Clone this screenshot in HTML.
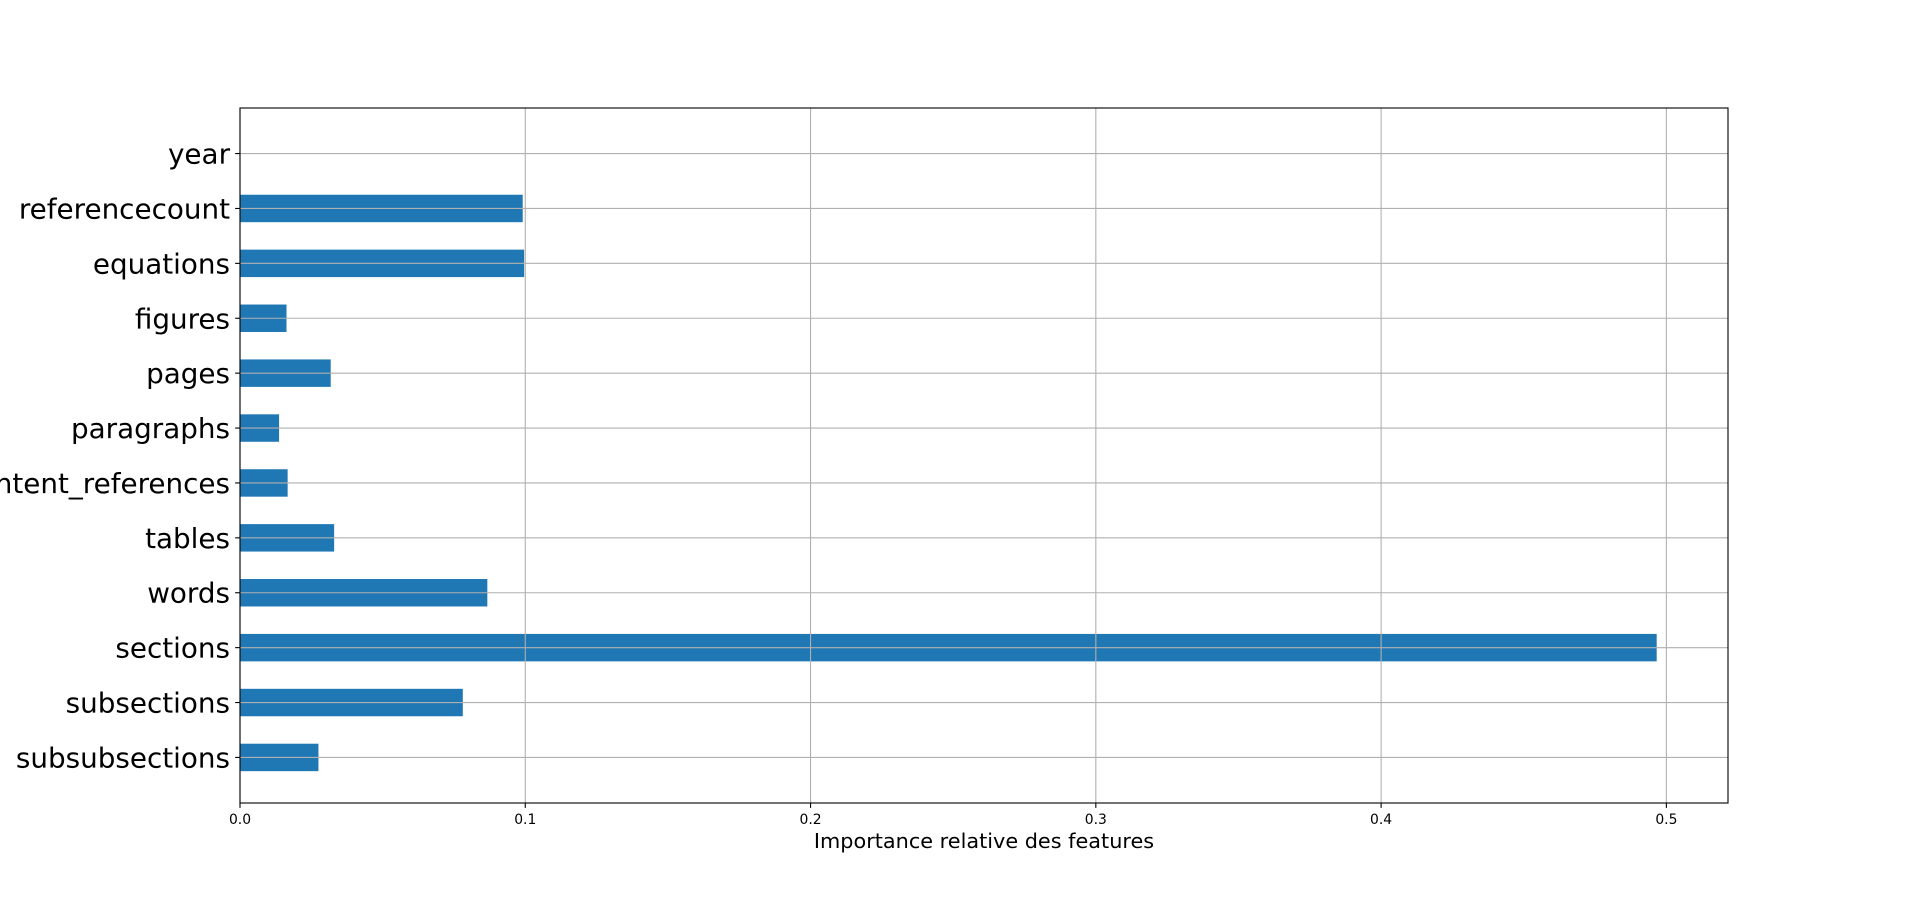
<!DOCTYPE html>
<html><head><meta charset="utf-8"><style>
html,body{margin:0;padding:0;background:#fff;}
svg{display:block;font-family:"DejaVu Sans","Liberation Sans",sans-serif;}
</style></head><body>
<svg id="chart" width="1920" height="902" viewBox="0 0 1920 902" xmlns="http://www.w3.org/2000/svg"></svg>
<script>
const categories = ["year","referencecount","equations","figures","pages","paragraphs","content_references","tables","words","sections","subsections","subsubsections"];
const values = [0.0, 0.0991, 0.0996, 0.0163, 0.0318, 0.0137, 0.0167, 0.033, 0.0867, 0.4966, 0.0781, 0.0275];
const xTicks = [0.0, 0.1, 0.2, 0.3, 0.4, 0.5];
const xTickLabels = ["0.0","0.1","0.2","0.3","0.4","0.5"];

const L=240, R=1728, T=108, B=803;
const xMax=0.5216, yLo=-0.83, yHi=11.83;
const NS="http://www.w3.org/2000/svg";
const svg=document.getElementById('chart');
function xs(v){return L+(v/xMax)*(R-L);}
function ys(i){const u=(categories.length-1-i);return B-(u-yLo)/(yHi-yLo)*(B-T);}
function mk(tag,attrs,parent){const e=document.createElementNS(NS,tag);for(const k in attrs)e.setAttribute(k,attrs[k]);(parent||svg).appendChild(e);return e;}

const barH=(B-T)/(yHi-yLo)*0.5;
categories.forEach((c,i)=>{
  const r=mk('rect',{x:xs(0),y:ys(i)-barH/2,width:xs(values[i])-xs(0),height:barH,fill:'#1f77b4'});
  
  
});
xTicks.forEach((t,k)=>{
  const g=mk('line',{x1:xs(t),x2:xs(t),y1:T,y2:B,stroke:'#b0b0b0','stroke-width':1.1});
  
  
  const tk=mk('line',{x1:xs(t),x2:xs(t),y1:B,y2:B+4.9,stroke:'#000','stroke-width':1.1});
  
  
  const tx=mk('text',{x:xs(t),y:B+21,'font-size':13.9,'text-anchor':'middle',fill:'#000'});
  tx.textContent=xTickLabels[k];
  
  
});
categories.forEach((c,i)=>{
  const g=mk('line',{x1:L,x2:R,y1:ys(i),y2:ys(i),stroke:'#b0b0b0','stroke-width':1.1});
  
  
  const tk=mk('line',{x1:L-4.9,x2:L,y1:ys(i),y2:ys(i),stroke:'#000','stroke-width':1.1});
  
  
  const tx=mk('text',{x:L-10,y:ys(i)+10,'font-size':27.8,'text-anchor':'end',fill:'#000'});
  tx.textContent=c;
  
  
});
const frame=mk('rect',{x:L,y:T,width:R-L,height:B-T,fill:'none',stroke:'#000','stroke-width':1.1});


const xl=mk('text',{x:(L+R)/2,y:848,'font-size':20.8,'text-anchor':'middle',fill:'#000'});
xl.textContent='Importance relative des features';


</script>
</body></html>
